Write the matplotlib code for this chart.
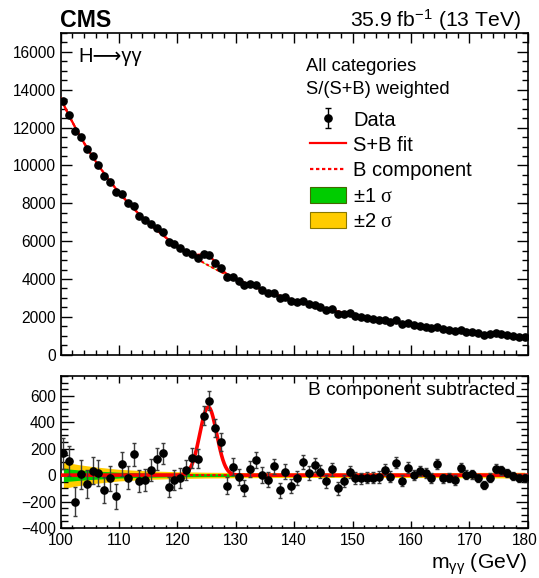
import numpy as np
import matplotlib.pyplot as plt
from matplotlib.lines import Line2D
from matplotlib.patches import Patch
from matplotlib.ticker import MultipleLocator, FuncFormatter

plt.rcParams['font.family'] = ['Liberation Sans', 'DejaVu Sans']
plt.rcParams['mathtext.fontset'] = 'custom'
plt.rcParams['mathtext.rm'] = 'Liberation Sans'
plt.rcParams['mathtext.it'] = 'Liberation Sans:italic'
plt.rcParams['mathtext.cal'] = 'Liberation Serif'

# weighted diphoton mass spectrum, 1 GeV bins from 100 to 180 GeV
mass = np.arange(100.5, 180.0, 1.0)
events = np.array([
    13390, 12680, 11800, 11480, 10880, 10500, 10020, 9455, 9150, 8610,
    8490, 8030, 7880, 7355, 7110, 6900, 6705, 6490, 5980, 5830,
    5620, 5450, 5345, 5132, 5300, 5250, 4868, 4595, 4120, 4120,
    3907, 3704, 3720, 3660, 3430, 3272, 3280, 3016, 3053, 2841,
    2795, 2841, 2683, 2646, 2508, 2365, 2402, 2169, 2169, 2190,
    2063, 1995, 1958, 1905, 1852, 1852, 1730, 1820, 1624, 1677,
    1571, 1534, 1481, 1397, 1481, 1344, 1291, 1238, 1291, 1201,
    1185, 1132, 1042, 1079, 1132, 1095, 1042, 989, 937, 921,
])

# data minus background component
resid = np.array([
    165, 107, -200, 5, -68, 32, 17, -110, -25, -160,
    85, -18, 157, -45, -35, 42, 124, 165, -88, -37,
    -20, 37, 130, 124, 449, 562, 357, 249, -80, 65,
    -15, -97, 45, 115, 0, -35, 67, -115, 27, -80,
    -22, 102, 15, 75, 25, -48, 45, -100, -45, 25,
    -22, -25, -18, -18, -13, 42, -13, 95, -43, 57,
    2, 30, 15, -22, 82, -25, -18, -37, 57, 2,
    7, -22, -73, -18, 50, 37, 15, -7, -22, -22,
])

# background fit uncertainty (1 sigma, events)
band_mass = [100.5, 103, 106, 110, 115, 120, 125, 130, 140, 150, 160, 170, 179.5]
band_1sig = [50, 40, 31, 22, 16, 13, 11, 10, 9, 9, 9, 10, 11]

# signal model
sig_peak = 515.0
sig_mean = 125.3
sig_width = 1.45

# background: smooth fit to the sidebands
keep = (mass < 120) | (mass > 130)
coef = np.polyfit(np.log(mass[keep]), np.log(events[keep]), 3)
m_fine = np.linspace(100, 180, 1601)
bkg = np.exp(np.polyval(coef, np.log(m_fine)))
sig = sig_peak * np.exp(-0.5 * ((m_fine - sig_mean) / sig_width) ** 2)

m_band = np.linspace(band_mass[0], band_mass[-1], 800)
s1 = np.interp(m_band, band_mass, band_1sig)
bkg_band = np.exp(np.polyval(coef, np.log(m_band)))

green = '#00cc00'
yellow = '#ffcc00'

W, H = 539, 578
fig = plt.figure(figsize=(W / 100, H / 100), dpi=100)
ax = fig.add_axes([60.5 / W, 1 - 354.7 / H, 467.2 / W, 321.7 / H])
axr = fig.add_axes([60.5 / W, 1 - 528 / H, 467.2 / W, 152 / H])

# --- upper panel
ax.fill_between(m_band, bkg_band - 2 * s1, bkg_band + 2 * s1, color=yellow, lw=0, zorder=1)
ax.fill_between(m_band, bkg_band - s1, bkg_band + s1, color=green, lw=0, zorder=2)
ax.plot(m_fine, bkg, color='red', lw=1.5, ls=(0, (1.5, 1.2)), zorder=3)
ax.plot(m_fine, bkg + sig, color='red', lw=1.6, zorder=4)
ax.errorbar(mass, events, yerr=np.sqrt(events), fmt='o', color='black', ms=5.2,
            elinewidth=1, capsize=1.5, zorder=5)

ax.set_xlim(100, 180)
ax.set_ylim(0, 17000)
ax.xaxis.set_major_locator(MultipleLocator(10))
ax.xaxis.set_minor_locator(MultipleLocator(2))
ax.yaxis.set_major_locator(MultipleLocator(2000))
ax.yaxis.set_minor_locator(MultipleLocator(500))
ax.tick_params(which='both', direction='in', top=True, right=True, labelbottom=False,
               labelsize=11.2, width=1, pad=3.5)
ax.tick_params(axis='x', which='major', length=7)
ax.tick_params(axis='x', which='minor', length=3.5)
ax.tick_params(axis='y', which='major', length=8)
ax.tick_params(axis='y', which='minor', length=4.5)

fig.text(78 / W, 1 - 61.7 / H, 'H\u27f6\u03b3\u03b3', fontsize=14.5, va='baseline', ha='left')
fig.text(306 / W, 1 - 71 / H, 'All categories', fontsize=13.2, va='baseline')
fig.text(306 / W, 1 - 94 / H, 'S/(S+B) weighted', fontsize=13.2, va='baseline')

data_h = ax.errorbar([0], [0], yerr=[1], fmt='o', color='black', ms=5.2,
                     elinewidth=1, capsize=2)
handles = [
    data_h,
    Line2D([], [], color='red', lw=1.6),
    Line2D([], [], color='red', lw=1.6, ls=(0, (1.5, 1.2))),
    Patch(facecolor=green, edgecolor='#446600', lw=0.8),
    Patch(facecolor=yellow, edgecolor='#887700', lw=0.8),
]
labels = ['Data', 'S+B fit', 'B component', r'$\pm$1 $\mathcal{σ}$', r'$\pm$2 $\mathcal{σ}$']
ax.legend(handles, labels, loc='upper left', bbox_to_anchor=(310 / W, 1 - 110.5 / H),
          bbox_transform=fig.transFigure, frameon=False, fontsize=14.5,
          borderpad=0, borderaxespad=0, handlelength=1.79, handleheight=0.84,
          handletextpad=0.35, labelspacing=0.32)

for sp in ax.spines.values():
    sp.set_linewidth(1.2)

# --- lower panel
axr.fill_between(m_band, -2 * s1, 2 * s1, color=yellow, lw=0, zorder=1)
axr.fill_between(m_band, -s1, s1, color=green, lw=0, zorder=2)
axr.plot(m_fine, np.zeros_like(m_fine), color='red', lw=1.5, ls=(0, (1.5, 1.2)), zorder=3)
axr.plot(m_fine, sig, color='red', lw=2.6, zorder=4)
axr.errorbar(mass, resid, yerr=np.sqrt(events), fmt='o', color='black', ms=5.2,
             ecolor='#3c3c3c', elinewidth=1, capsize=1.5, zorder=5)

axr.set_xlim(100, 180)
axr.set_ylim(-400, 750)
axr.xaxis.set_major_locator(MultipleLocator(10))
axr.xaxis.set_minor_locator(MultipleLocator(2))
axr.yaxis.set_major_locator(MultipleLocator(200))
axr.yaxis.set_minor_locator(MultipleLocator(50))
# the label at the right edge is placed by hand so it stays on the canvas
axr.xaxis.set_major_formatter(FuncFormatter(lambda v, p: '' if v >= 180 else f'{v:.0f}'))
axr.tick_params(which='both', direction='in', top=True, right=True,
                labelsize=11.2, width=1, pad=3.5)
axr.tick_params(axis='x', which='major', length=5)
axr.tick_params(axis='x', which='minor', length=2.5)
axr.tick_params(axis='y', which='major', length=9)
axr.tick_params(axis='y', which='minor', length=5)
for sp in axr.spines.values():
    sp.set_linewidth(1.2)
fig.text(538 / W, 1 - 532.9 / H, '180', fontsize=11.2, ha='right', va='top')

fig.text(515 / W, 1 - 395 / H, 'B component subtracted', fontsize=13.8,
         ha='right', va='baseline')

fig.text(527 / W, 1 - 569 / H, r'm$_{\mathrm{γγ}}$ (GeV)', fontsize=15.2,
         ha='right', va='baseline')
fig.text(60 / W, 1 - 26.7 / H, 'CMS', fontsize=16.7, fontweight='bold', va='baseline')
fig.text(521 / W, 1 - 26.7 / H, r'35.9 fb$^{\mathrm{-1}}$ (13 TeV)', fontsize=15.2,
         ha='right', va='baseline')

fig.savefig('out.png', dpi=100)
